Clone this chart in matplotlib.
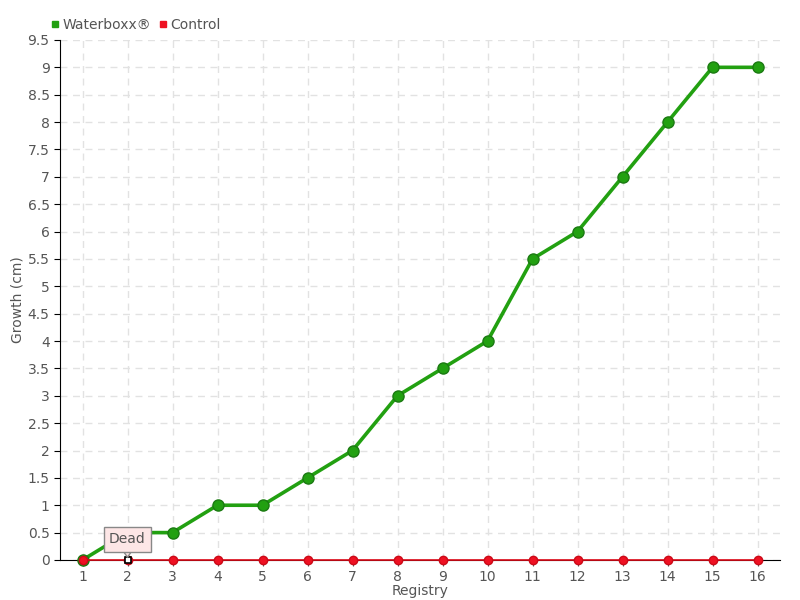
import matplotlib.pyplot as plt
from matplotlib.ticker import FuncFormatter

registry = list(range(1, 17))
waterboxx = [0, 0.5, 0.5, 1, 1, 1.5, 2, 3, 3.5, 4, 5.5, 6, 7, 8, 9, 9]
control = [0] * 16
yticks = [i * 0.5 for i in range(20)]

txt = '#555555'
plt.rcParams['font.family'] = ['DejaVu Sans']
plt.rcParams['font.size'] = 10

fig = plt.figure(figsize=(8, 6), dpi=100)
ax = fig.add_axes([0.075, 0.0667, 0.9, 0.8667])

ax.plot(registry, waterboxx, color='#22a011', lw=2.6, marker='o', ms=8,
        mfc='#22a011', mec='#1b7a12', mew=1, label='Waterboxx®', zorder=3,
        clip_on=False)
ax.plot(registry, control, color='#dd0a18', lw=1.2, marker='o', ms=6,
        mfc='#ee1122', mec='#cc0a18', label='Control', zorder=4, clip_on=False)
# dead plant marker
ax.plot([2], [0], marker='s', ms=5, mfc='white', mec='black', mew=1.2, zorder=5,
        clip_on=False)
ax.annotate('Dead', xy=(2, 0.05), xytext=(2, 0.38), ha='center', va='center',
            color=txt, fontsize=10,
            bbox=dict(boxstyle='square,pad=0.4', fc='#fde6e6', ec='#888888', lw=1),
            arrowprops=dict(arrowstyle='wedge,tail_width=0.5', fc='#fde6e6',
                            ec='#888888', lw=1, shrinkA=0, shrinkB=0),
            zorder=6)

ax.set_xlim(0.5, 16.5)
ax.set_ylim(0, 9.5)
ax.set_xticks(registry)
ax.set_yticks(yticks)
ax.yaxis.set_major_formatter(FuncFormatter(lambda v, p: f'{v:g}'))
ax.grid(True, ls=(0, (5, 4)), color='#e2e2e2', lw=1)
ax.set_axisbelow(True)
for s in ['top', 'right']:
    ax.spines[s].set_visible(False)
ax.spines['left'].set_color('black')
ax.spines['bottom'].set_color('black')
ax.tick_params(axis='both', colors=txt, labelcolor=txt, length=4)
ax.tick_params(axis='y', color='black')
ax.set_xlabel('Registry', color=txt, labelpad=0)
ax.set_ylabel('Growth (cm)', color=txt, labelpad=2)

ax.legend(loc='lower left', bbox_to_anchor=(-0.02, 1.005), ncol=2, frameon=False,
          handlelength=0.5, handletextpad=0.3, columnspacing=0.6,
          labelcolor=txt, markerscale=0.6, borderaxespad=0)
leg = ax.get_legend()
for h, c in zip(leg.legend_handles, ['#22a011', '#ee1122']):
    h.set_linestyle('none')
    h.set_marker('s')
    h.set_markerfacecolor(c)
    h.set_markeredgecolor(c)
    h.set_markersize(5)

fig.savefig('out.png')
